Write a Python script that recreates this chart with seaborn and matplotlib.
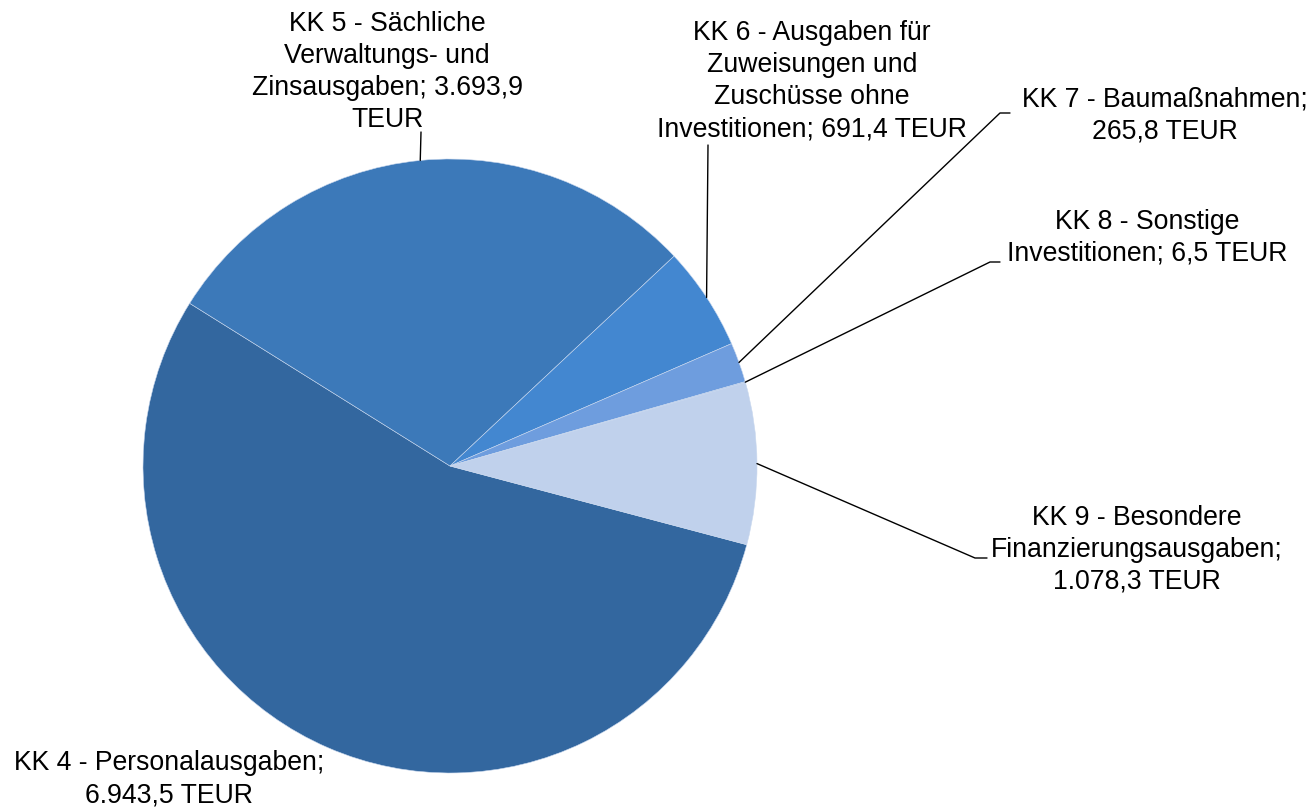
import numpy as np
import matplotlib
matplotlib.use("Agg")
import matplotlib.pyplot as plt
import seaborn as sns

# Daten
kategorien = [
    "KK 4 - Personalausgaben;\n6.943,5 TEUR",
    "KK 5 - Sächliche\nVerwaltungs- und\nZinsausgaben; 3.693,9\nTEUR",
    "KK 6 - Ausgaben für\nZuweisungen und\nZuschüsse ohne\nInvestitionen; 691,4 TEUR",
    "KK 7 - Baumaßnahmen;\n265,8 TEUR",
    "KK 8 - Sonstige\nInvestitionen; 6,5 TEUR",
    "KK 9 - Besondere\nFinanzierungsausgaben;\n1.078,3 TEUR",
]
werte = [6943.5, 3693.9, 691.4, 265.8, 6.5, 1078.3]
farben = ["#33679f", "#3c79b9", "#4387d0", "#6e9dde", "#9bb8e6", "#c0d1ec"]

sns.set_theme(style="white")
plt.rcParams["font.family"] = ["Liberation Sans", "DejaVu Sans"]

W, H = 1313, 808
cx, cy, r = 450, 466, 307

fig = plt.figure(figsize=(W / 100, H / 100), dpi=100)
ax = fig.add_axes([(cx - r) / W, (H - cy - r) / H, 2 * r / W, 2 * r / H])

anteil_4 = werte[0] / sum(werte) * 360
wedges, _ = ax.pie(
    werte,
    colors=farben,
    startangle=148 + anteil_4,
    counterclock=False,
    radius=1,
    wedgeprops={"linewidth": 0.4, "edgecolor": "#c9d8ee"},
)
ax.set_xlim(-1, 1)
ax.set_ylim(-1, 1)
ax.set_aspect("equal")
ax.axis("off")


def px(x, y):
    # Pixel -> Datenkoordinaten
    return (x - cx) / r, (cy - y) / r


# Textposition (Mitte) und Knickpunkte der Führungslinien in Pixeln
text_pos = [(169, 779), (387, 72), (812, 81), (1165, 116), (1147, 238), (1137, 550)]
knicke = [
    None,
    [(421, 132)],
    [(708, 145)],
    [(1000, 113), (1010, 113)],
    [(990, 262), (1000, 262)],
    [(975, 558), (987, 558)],
]

for w, lab, tp, kn in zip(wedges, kategorien, text_pos, knicke):
    if kn is not None:
        mitte = np.deg2rad((w.theta1 + w.theta2) / 2)
        xs = [np.cos(mitte)] + [px(*p)[0] for p in kn]
        ys = [np.sin(mitte)] + [px(*p)[1] for p in kn]
        ax.plot(xs, ys, color="black", lw=1.0, clip_on=False)
    tx, ty = px(*tp)
    ax.text(tx, ty, lab, ha="center", va="center", fontsize=19.2,
            color="black", linespacing=1.3, clip_on=False)

fig.savefig("out.png", dpi=100, facecolor="white")
